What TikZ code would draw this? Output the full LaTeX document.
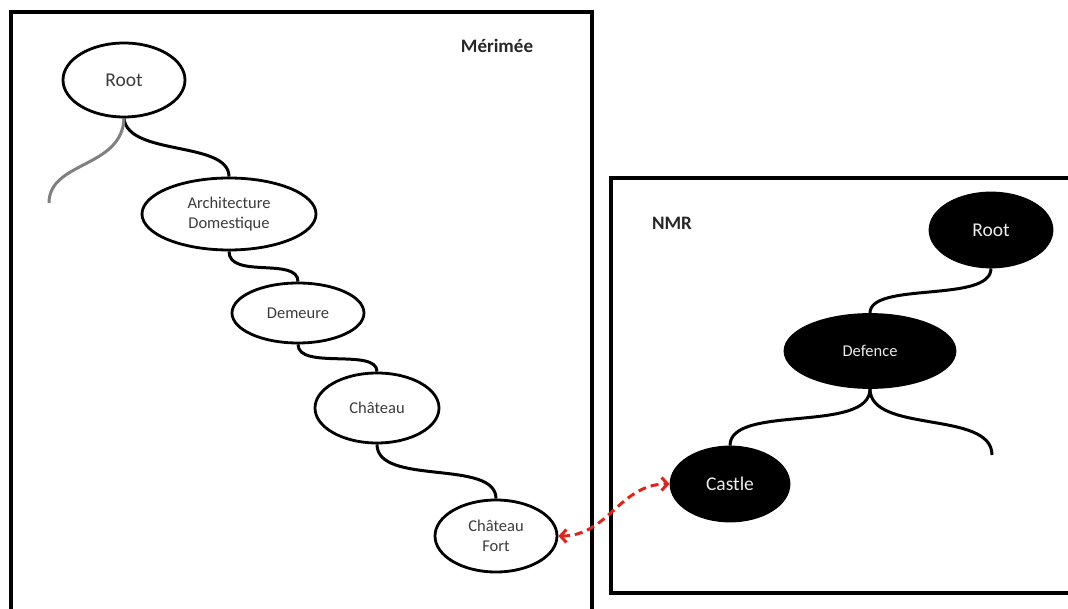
\documentclass[tikz,border=0pt]{standalone}
\usepackage{fontspec}
\setmainfont{Carlito}
\usepackage{xcolor}
\usepackage{tikz}
\usetikzlibrary{shapes,arrows.meta,positioning}
\definecolor{labelgray}{HTML}{3C3C3C}
\definecolor{matchred}{HTML}{E2231A}

\begin{document}
\begin{tikzpicture}[
    x=1pt, y=-1pt,
    boxframe/.style={draw, line width=3.2pt},
    leaf/.style={ellipse, draw, line width=2.8pt, fill=white, inner sep=0pt, text=labelgray, align=center, font=\fontsize{16.5}{20}\selectfont},
    darkleaf/.style={ellipse, draw, line width=2.8pt, fill=black, inner sep=0pt, text=white!92!black, align=center, font=\fontsize{16.5}{20}\selectfont},
    bigtext/.style={font=\fontsize{19.5}{23}\selectfont},
    boxtitle/.style={font=\bfseries\fontsize{19}{23}\selectfont, text=black!85},
    link/.style={line width=3pt},
    matchline/.style={matchred, line width=3pt, dash pattern=on 8pt off 5pt, {Straight Barb[length=6pt,width=13pt]}-{Straight Barb[length=6pt,width=13pt]}}
]
\useasboundingbox (0,0) rectangle (1068,609);
\clip (0,0) rectangle (1068,609);

% Frames
\draw[boxframe] (11,12) rectangle (592,640);
\draw[boxframe] (611,178) rectangle (1090,593);
\node[boxtitle] (merimee) at (497,46) {Mérimée};
\node[boxtitle] (nmr) at (672,223) {NMR};

% Merimee branch
\node[leaf, bigtext, minimum width=122pt, minimum height=74pt] (rootm) at (124,80) {Root};
\node[leaf, minimum width=174pt, minimum height=72pt] (archdom) at (229,214) {Architecture\\Domestique};
\node[leaf, minimum width=132pt, minimum height=60pt] (demeure) at (298,313) {Demeure};
\node[leaf, minimum width=124pt, minimum height=70pt] (chateau) at (377,408) {Château};
\node[leaf, minimum width=122pt, minimum height=72pt] (chfort) at (496,536) {Château\\Fort};
\coordinate (stubm) at (49,203);

% NMR branch
\node[darkleaf, bigtext, minimum width=122pt, minimum height=74pt] (rootn) at (991,230) {Root};
\node[darkleaf, minimum width=170pt, minimum height=73pt] (defence) at (870,351) {Defence};
\node[darkleaf, bigtext, minimum width=118pt, minimum height=74pt] (castle) at (730,484) {Castle};
\coordinate (stubn) at (992,455);

% Links
\draw[link] (rootm.south) .. controls +(4,38) and +(0,-36) .. (archdom.north);
\draw[link, gray] (rootm.south) .. controls +(-2,50) and +(0,-42) .. (stubm);
\draw[link] (archdom.south) .. controls +(0,28) and +(0,-25) .. (demeure.north);
\draw[link] (demeure.south) .. controls +(0,26) and +(0,-24) .. (chateau.north);
\draw[link] (chateau.south) .. controls +(0,42) and +(0,-40) .. (chfort.north);

\draw[link] (rootn.south) .. controls +(0,35) and +(0,-32) .. (defence.north);
\draw[link] (defence.south) .. controls +(0,45) and +(0,-42) .. (castle.north);
\draw[link] (defence.south) .. controls +(0,45) and +(0,-45) .. (stubn);

% Match
\draw[matchline] (chfort.east) .. controls +(50,0) and +(-50,0) .. (castle.west);

\end{tikzpicture}
\end{document}
